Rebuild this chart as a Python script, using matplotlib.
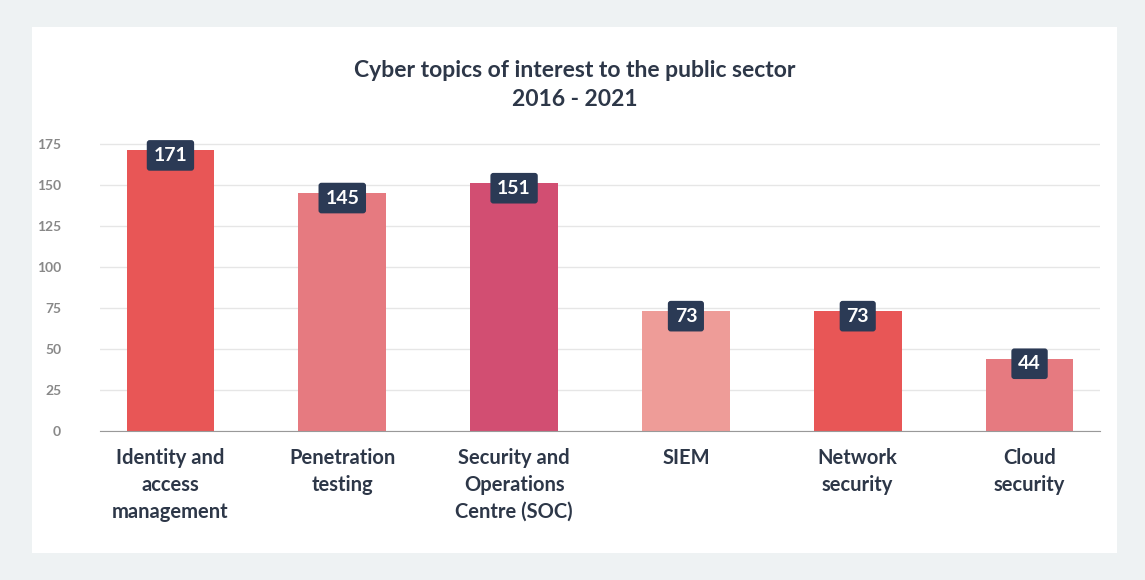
import matplotlib
matplotlib.use("Agg")
import matplotlib.pyplot as plt

categories = ["Identity and\naccess\nmanagement", "Penetration\ntesting", "Security and\nOperations\nCentre (SOC)",
              "SIEM", "Network\nsecurity", "Cloud\nsecurity"]
values = [171, 145, 151, 73, 73, 44]
colors = ["#e85656", "#e67a80", "#d24e72", "#ee9c98", "#e85656", "#e67a80"]
yticks = [0, 25, 50, 75, 100, 125, 150, 175]

plt.rcParams['font.family'] = ['Lato', 'DejaVu Sans']
fig = plt.figure(figsize=(11.45, 5.8), dpi=100, facecolor="#eef2f3")
bg = fig.add_axes([32/1145, 27/580, 1085/1145, 526/580], zorder=0)
bg.set_facecolor("white")
bg.set_xticks([]); bg.set_yticks([])
for s in bg.spines.values():
    s.set_visible(False)
ax = fig.add_axes([100/1145, 149/580, 1000/1145, 292/580], zorder=1)
ax.set_facecolor("none")
x = list(range(len(values)))
ax.bar(x, values, width=0.51, color=colors, zorder=2)
ax.set_xlim(-0.41, 5.41)
ax.set_ylim(0, 178)
ax.set_yticks(yticks)
ax.set_yticklabels([str(t) for t in yticks], fontsize=10, color="#888", fontweight="bold")
ax.tick_params(axis="y", length=0, pad=28)
ax.tick_params(axis="x", length=0, pad=12)
ax.set_xticks(x)
ax.set_xticklabels(categories, fontsize=14.5, fontweight="bold", color="#2d3748", linespacing=1.45, va="top")
ax.grid(axis="y", color="#e6e6e6", lw=1, zorder=0)
for s in ["top", "right", "left"]:
    ax.spines[s].set_visible(False)
ax.spines["bottom"].set_color("#999")
for xi, v in zip(x, values):
    ax.text(xi, v - 3, str(v), ha="center", va="center", fontsize=14, fontweight="bold", color="white",
            bbox=dict(boxstyle="round,pad=0.35,rounding_size=0.15", fc="#2b3a55", ec="none"), zorder=3)
fig.text(575/1145, 1 - 85/580, "Cyber topics of interest to the public sector\n2016 - 2021", ha="center", va="center",
         fontsize=16.5, fontweight="bold", color="#2d3748", linespacing=1.5, zorder=5)
fig.savefig("out.png", dpi=100, facecolor=fig.get_facecolor())
